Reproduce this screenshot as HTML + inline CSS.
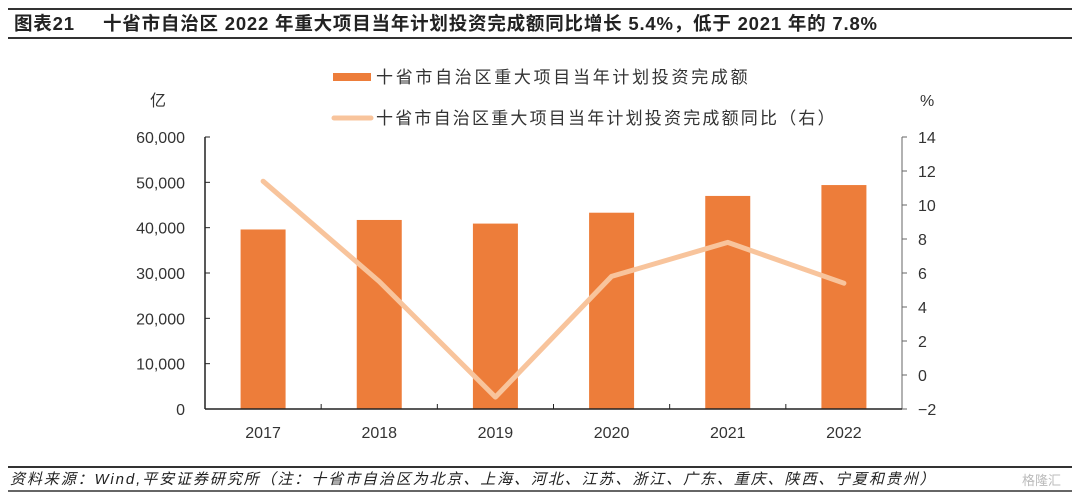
<!DOCTYPE html>
<html><head><meta charset="utf-8"><style>
body{margin:0;background:#fff;}
svg{display:block;font-family:"Liberation Sans","Noto Sans CJK SC",sans-serif;}
</style></head><body>
<svg id="chart" width="1080" height="500">
<line x1="8" y1="9" x2="1072" y2="9" stroke="#333" stroke-width="2"/>
<line x1="8" y1="38" x2="1072" y2="38" stroke="#333" stroke-width="2"/>
<text x="14" y="30" font-size="18.5" font-weight="bold" fill="#222" letter-spacing="0.8">图表21<tspan x="103">十省市自治区 2022 年重大项目当年计划投资完成额同比增长 5.4%，低于 2021 年的 7.8%</tspan></text>
<rect x="333" y="73" width="38" height="8" fill="#ED7D3A"/>
<text x="376" y="83" font-size="17" letter-spacing="2.7" fill="#333">十省市自治区重大项目当年计划投资完成额</text>
<line x1="334" y1="118" x2="371" y2="118" stroke="#F8C49C" stroke-width="5" stroke-linecap="round"/>
<text x="376" y="124" font-size="17" letter-spacing="2.2" fill="#333">十省市自治区重大项目当年计划投资完成额同比（右）</text>
<text x="150" y="106" font-size="16" fill="#333">亿</text>
<text x="920" y="106" font-size="16" fill="#333">%</text>
<g id="plot"></g>
<line x1="8" y1="467" x2="1072" y2="467" stroke="#333" stroke-width="2"/>
<line x1="8" y1="491" x2="1072" y2="491" stroke="#333" stroke-width="1.5"/>
<text x="10" y="484" font-size="15" letter-spacing="1.9" font-style="italic" fill="#222">资料来源：Wind,平安证券研究所（注：十省市自治区为北京、上海、河北、江苏、浙江、广东、重庆、陕西、宁夏和贵州）</text>
<text x="1022" y="485" font-size="13" fill="#bbb">格隆汇</text>
</svg>
<script>
const categories=["2017","2018","2019","2020","2021","2022"];
const barValues=[39600,41700,40900,43300,47000,49400];
const lineValues=[11.4,5.5,-1.3,5.8,7.8,5.4];
const leftTicks=[0,10000,20000,30000,40000,50000,60000];
const rightTicks=[-2,0,2,4,6,8,10,12,14];

const NS="http://www.w3.org/2000/svg";
const g=document.getElementById('plot');
const X0=205,X1=902,Y0=409,Y1=137;
const bw=(X1-X0)/categories.length;
const yL=v=>Y0-(v-0)/(60000-0)*(Y0-Y1);
const yR=v=>Y0-(v+2)/(14+2)*(Y0-Y1);
const xC=i=>X0+bw*(i+0.5);
function mk(t,a){const e=document.createElementNS(NS,t);for(const k in a)e.setAttribute(k,a[k]);g.appendChild(e);return e;}

barValues.forEach((v,i)=>{
  const r=mk('rect',{x:xC(i)-22.5,y:yL(v),width:45,height:Y0-yL(v),fill:'#ED7D3A'});
  
  
});
const pts=lineValues.map((v,i)=>xC(i)+','+yR(v)).join(' ');
const pl=mk('polyline',{points:pts,fill:'none',stroke:'#F8C49C','stroke-width':5,'stroke-linejoin':'round','stroke-linecap':'round'});



let a=mk('line',{x1:X0,y1:Y1,x2:X0,y2:Y0,stroke:'#222','stroke-width':1.5});


a=mk('line',{x1:X1,y1:Y1,x2:X1,y2:Y0,stroke:'#666','stroke-width':1});


a=mk('line',{x1:X0,y1:Y0,x2:X1,y2:Y0,stroke:'#222','stroke-width':1.5});



leftTicks.forEach(v=>{
  const y=yL(v);
  mk('line',{x1:X0,y1:y,x2:X0+5,y2:y,stroke:'#222'});
  const t=mk('text',{x:185,y:y+6,'font-size':16,fill:'#333','text-anchor':'end'});
  t.textContent=v.toLocaleString('en-US');
  
  
});
rightTicks.forEach(v=>{
  const y=yR(v);
  mk('line',{x1:X1,y1:y,x2:X1+5,y2:y,stroke:'#666'});
  const t=mk('text',{x:918,y:y+6,'font-size':16,fill:'#333'});
  t.textContent=v<0?'\u2212'+Math.abs(v):String(v);
  
  
});
categories.forEach((c,i)=>{
  if(i>0) mk('line',{x1:X0+bw*i,y1:Y0,x2:X0+bw*i,y2:Y0-5,stroke:'#222'});
  const t=mk('text',{x:xC(i),y:438,'font-size':16,fill:'#333','text-anchor':'middle'});
  t.textContent=c;
  
  
});
</script>
</body></html>
